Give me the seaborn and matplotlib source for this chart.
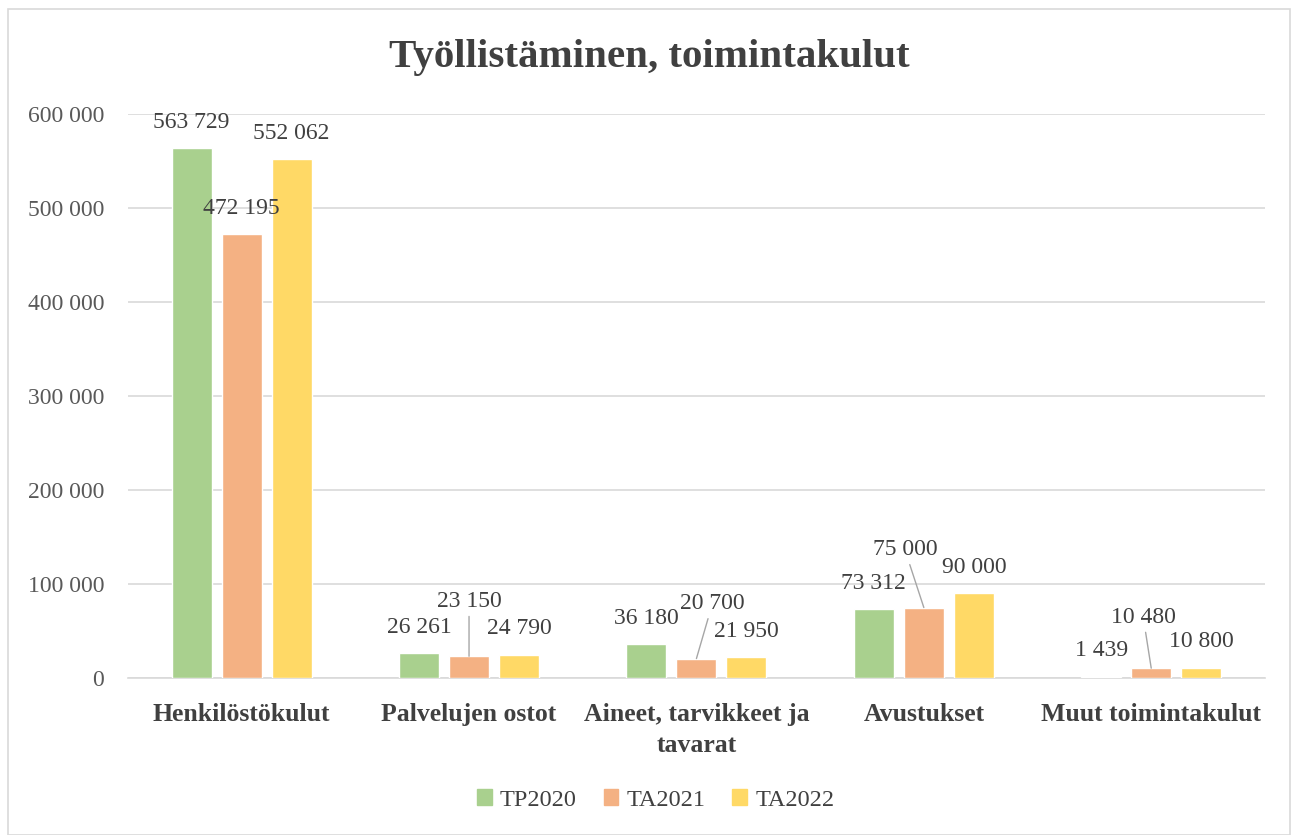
import pandas as pd
import matplotlib.pyplot as plt
import seaborn as sns
from matplotlib.patches import Rectangle

categories = ["Henkilöstökulut", "Palvelujen ostot", "Aineet, tarvikkeet ja\ntavarat",
              "Avustukset", "Muut toimintakulut"]
series = ["TP2020", "TA2021", "TA2022"]
tp2020 = [563729, 26261, 36180, 73312, 1439]
ta2021 = [472195, 23150, 20700, 75000, 10480]
ta2022 = [552062, 24790, 21950, 90000, 10800]
yticks = [0, 100000, 200000, 300000, 400000, 500000, 600000]

colors = ["#A9D08E", "#F4B183", "#FFD966"]

# (series index, category index) -> label offset in pixels; these were dragged in Excel
moved_labels = {
    (1, 1): (0, 55),
    (1, 2): (16, 55),
    (1, 3): (-19, 58),
    (1, 4): (-8, 51),
}


def fmt(v):
    return f"{int(v):,}".replace(",", " ")


df = pd.DataFrame({
    "kategoria": categories * 3,
    "sarja": [s for s in series for _ in categories],
    "arvo": tp2020 + ta2021 + ta2022,
})

sns.set_theme(style="white")
plt.rcParams["font.family"] = ["Liberation Serif", "DejaVu Serif"]

fig = plt.figure(figsize=(12.91, 8.35), dpi=100)
ax = fig.add_axes([0.0991, 0.188, 0.8807, 0.6755])

sns.barplot(data=df, x="kategoria", y="arvo", hue="sarja", palette=colors,
            width=0.66, gap=0.2, ax=ax, saturation=1, errorbar=None, zorder=3)

ax.set_ylim(0, 600000)
ax.set_yticks(yticks)
ax.set_yticklabels([fmt(v) for v in yticks], fontsize=17, color="#595959")
ax.set_xticks(range(len(categories)))
ax.set_xticklabels(categories, fontsize=18.5, fontweight="bold", color="#404040",
                   linespacing=1.45)
ax.tick_params(axis="y", length=0, pad=17)
ax.tick_params(axis="x", length=0, pad=18)
ax.set_xlabel("")
ax.set_ylabel("")
ax.grid(axis="y", color="#d9d9d9", linewidth=1.2, zorder=0)
for s in ["left", "right", "top"]:
    ax.spines[s].set_visible(False)
ax.spines["bottom"].set_color("#d9d9d9")
ax.spines["bottom"].set_linewidth(1.2)

for i, cont in enumerate(ax.containers):
    for j, bar in enumerate(cont):
        v = bar.get_height()
        xc = bar.get_x() + bar.get_width() / 2
        if (i, j) in moved_labels:
            ax.annotate(fmt(v), xy=(xc, v), xytext=moved_labels[(i, j)],
                        textcoords="offset pixels", ha="center", va="center",
                        fontsize=17, color="#404040", zorder=5,
                        arrowprops=dict(arrowstyle="-", color="#a6a6a6", lw=1,
                                        shrinkA=1, shrinkB=0))
        else:
            ax.annotate(fmt(v), xy=(xc, v), xytext=(0, 26),
                        textcoords="offset pixels", ha="center", va="center",
                        fontsize=17, color="#404040", zorder=5)

ax.legend_.remove()
handles = [Rectangle((0, 0), 1, 1, color=c) for c in colors]
fig.legend(handles, series, loc="center", bbox_to_anchor=(0.508, 1 - 800 / 835), ncol=3,
           frameon=False, fontsize=17.5, handlelength=0.6, handleheight=0.6,
           handletextpad=0.35, columnspacing=1.1, labelcolor="#404040")

fig.text(0.503, 1 - 58 / 835, "Työllistäminen, toimintakulut", ha="center", va="center",
         fontsize=29.5, fontweight="bold", color="#404040")

fig.patches.append(Rectangle((8 / 1291, 0), 1 - 9 / 1291, 1 - 9 / 835, transform=fig.transFigure,
                             fill=False, edgecolor="#d9d9d9", linewidth=1.2))

fig.savefig("out.png", dpi=100)
